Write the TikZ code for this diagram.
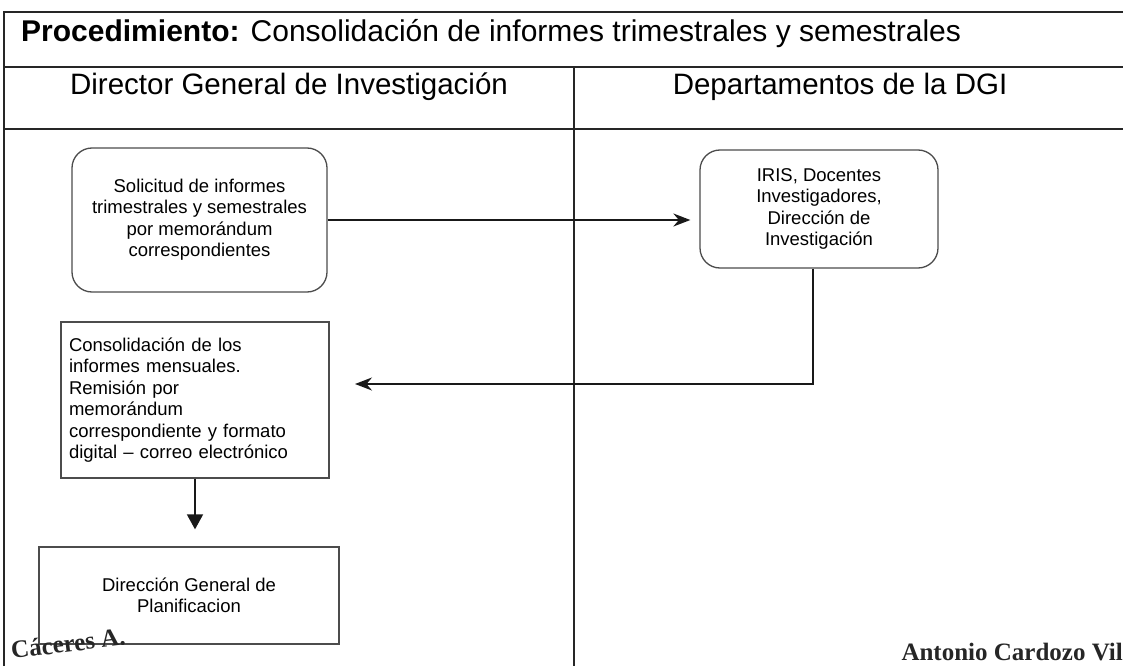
\documentclass[tikz,border=0pt]{standalone}
\usepackage{fontspec}
\setmainfont{Liberation Sans}
\newfontfamily\sigfont{Liberation Serif}
\usetikzlibrary{arrows.meta,calc}
\begin{document}
\begin{tikzpicture}[x=1pt,y=-1pt,
  grid/.style={line width=1.6pt, draw=black!85},
  proc/.style={draw=black!70, line width=1.3pt, align=center,
    font=\fontsize{18.5}{21.5}\selectfont, inner sep=0pt},
  rproc/.style={proc, rounded corners=20pt},
  flow/.style={line width=1.8pt, draw=black!90},
  head/.style={font=\fontsize{29.5}{34}\selectfont, inner sep=0pt},
  sig/.style={font=\sigfont\bfseries\fontsize{25}{25}\selectfont, inner sep=0pt, text=black!85}]
\useasboundingbox (0,0) rectangle (1123,666);
% table
\draw[grid] (4,666) -- (4,12) -- (1123,12);
\draw[grid] (4,67) -- (1123,67);
\draw[grid] (4,129) -- (1123,129);
\draw[grid] (574,67) -- (574,666);
% headings
\node[head, font=\fontsize{30}{34}\selectfont, anchor=base west] (title) at (21,42) {\textbf{Procedimiento:} Consolidación de informes trimestrales y semestrales};
\node[head, anchor=base] (h1) at (289,95) {Director General de Investigación};
\node[head, anchor=base] (h2) at (840,95) {Departamentos de la DGI};
% boxes
\node[rproc, minimum width=255pt, minimum height=144pt] (s1) at (199.5,220)
  {\raisebox{-6pt}{\begin{tabular}{@{}c@{}}Solicitud de informes\\trimestrales y semestrales\\por memorándum\\correspondientes\end{tabular}}};
\node[rproc, minimum width=238pt, minimum height=118pt] (iris) at (819,209)
  {IRIS, Docentes\\Investigadores,\\Dirección de\\Investigación};
\node[proc, align=left, text width=252pt, minimum width=268pt, minimum height=156pt] (s2) at (195,400)
  {Consolidación de los\\informes mensuales.\\Remisión por\\memorándum\\correspondiente y formato\\digital -- correo electrónico};
\node[proc, minimum width=300pt, minimum height=97pt] (s3) at (189,595.5)
  {Dirección General de\\Planificacion};
% connectors
\coordinate (c2) at (355,384);
\draw[flow, -{Stealth[length=17pt,width=13pt]}, shorten >=9pt] (s1.east) -- (s1.east -| iris.west);
\draw[flow, -{Stealth[length=17pt,width=13pt]}] ([xshift=-6pt]iris.south) |- (c2);
\draw[flow, -{Triangle[length=15pt,width=16pt]}, shorten >=17pt] (s2.south) -- (s3.north -| s2.south);
% stamp texts
\node[sig, anchor=base west, rotate=7] (sa) at (12,659) {Cáceres A.};
\node[sig, anchor=base east] (sb) at (1123,660) {Antonio Cardozo Vil};
\end{tikzpicture}
\end{document}
